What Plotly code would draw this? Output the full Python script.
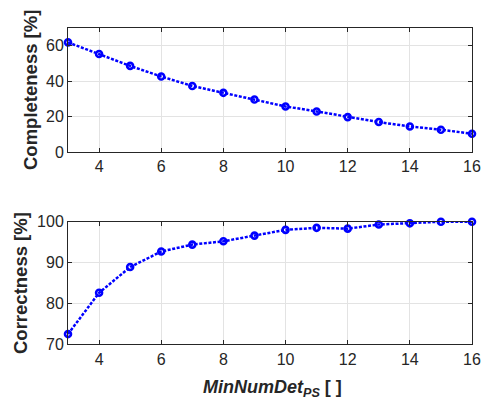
import plotly.graph_objects as go

x_vals = [3, 4, 5, 6, 7, 8, 9, 10, 11, 12, 13, 14, 15, 16]
completeness = [61.9, 55.3, 48.6, 42.6, 37.3, 33.4, 29.6, 25.7, 22.9, 19.7, 16.9, 14.4, 12.6, 10.3]
correctness = [72.5, 82.6, 88.9, 92.7, 94.4, 95.2, 96.6, 98.0, 98.5, 98.3, 99.3, 99.6, 100.0, 100.0]
x_ticks = [4, 6, 8, 10, 12, 14, 16]
y1_ticks = [0, 20, 40, 60]
y2_ticks = [70, 80, 90, 100]

W, H = 483, 402
x0, x1 = 68 / W, 472 / W
top_dom = [1 - 152 / H, 1 - 28 / H]
bot_dom = [1 - 344.3 / H, 1 - 221.7 / H]

line_style = dict(color="#0000ff", width=2.5, dash="3px,1.6px")
marker_style = dict(symbol="circle-open", size=6, color="#0000ff", line=dict(width=2.6, color="#0000ff"))

fig = go.Figure()
fig.add_trace(go.Scatter(x=x_vals, y=completeness, mode="lines+markers",
                         line=line_style, marker=marker_style, xaxis="x", yaxis="y",
                         cliponaxis=False, showlegend=False))
fig.add_trace(go.Scatter(x=x_vals, y=correctness, mode="lines+markers",
                         line=line_style, marker=marker_style, xaxis="x2", yaxis="y2",
                         cliponaxis=False, showlegend=False))

fam = "Liberation Sans, Arial, sans-serif"
font = dict(family=fam, size=16, color="#262626")
ytitle_font = dict(family=fam, size=18.5, color="#262626")
xtitle_font = dict(family=fam, size=18, color="#262626")
axis_common = dict(showline=True, linecolor="#262626", linewidth=1, mirror="ticks",
                   ticks="inside", ticklen=4, tickcolor="#262626",
                   showgrid=True, gridcolor="#e3e3e3", gridwidth=1,
                   zeroline=False, tickfont=font, automargin=False)

fig.update_layout(
    template="none",
    width=W, height=H,
    margin=dict(l=0, r=0, t=0, b=0, pad=0),
    paper_bgcolor="white", plot_bgcolor="white",
    font=font,
    xaxis=dict(domain=[x0, x1], range=[3, 16], tickvals=x_ticks, anchor="y", **axis_common),
    yaxis=dict(domain=top_dom, range=[0, 70], tickvals=y1_ticks, anchor="x", **axis_common),
    xaxis2=dict(domain=[x0, x1], range=[3, 16], tickvals=x_ticks, anchor="y2", **axis_common),
    yaxis2=dict(domain=bot_dom, range=[70, 100], tickvals=y2_ticks, anchor="x2", **axis_common),
    annotations=[
        dict(text="<b>Completeness [%]</b>", x=31 / W, y=1 - 90 / H, xref="paper", yref="paper",
             xanchor="center", yanchor="middle",
             textangle=-90, showarrow=False, font=ytitle_font),
        dict(text="<b>Correctness [%]</b>", x=20 / W, y=1 - 283 / H, xref="paper", yref="paper",
             xanchor="center", yanchor="middle",
             textangle=-90, showarrow=False, font=ytitle_font),
        dict(text="<b><i>MinNumDet<sub>PS</sub></i> [ ]</b>", x=272 / W, y=0,
             xref="paper", yref="paper", xanchor="center", yanchor="bottom", showarrow=False,
             font=xtitle_font),
    ],
)

fig.write_html("out.html", config={"displayModeBar": False},
               post_script="document.body.style.margin='0';")
